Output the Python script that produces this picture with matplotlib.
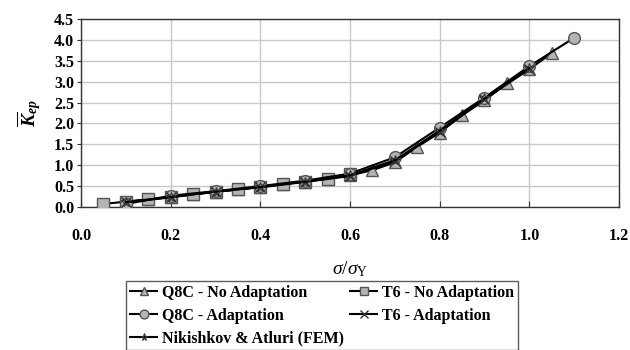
import matplotlib
matplotlib.use("Agg")
import matplotlib.pyplot as plt

plt.rcParams["font.family"] = "Liberation Serif"
plt.rcParams["font.weight"] = "bold"
plt.rcParams["mathtext.fontset"] = "custom"
plt.rcParams["mathtext.rm"] = "Liberation Serif:regular"
plt.rcParams["mathtext.it"] = "Liberation Serif:italic:regular"
plt.rcParams["mathtext.bf"] = "Liberation Serif:italic:bold"

# sigma / sigma_Y  vs  normalised K_ep
q8c_na_x = [0.1, 0.15, 0.2, 0.25, 0.3, 0.35, 0.4, 0.45, 0.5, 0.55, 0.6,
            0.65, 0.7, 0.75, 0.8, 0.85, 0.9, 0.95, 1.0, 1.05]
q8c_na_y = [0.12, 0.18, 0.24, 0.30, 0.36, 0.42, 0.48, 0.55, 0.61, 0.68, 0.76,
            0.88, 1.07, 1.44, 1.78, 2.20, 2.55, 2.96, 3.30, 3.68]

t6_na_x = [0.05, 0.1, 0.15, 0.2, 0.25, 0.3, 0.35, 0.4, 0.45, 0.5, 0.55, 0.6]
t6_na_y = [0.07, 0.13, 0.18, 0.24, 0.31, 0.36, 0.42, 0.48, 0.55, 0.61, 0.68, 0.78]

q8c_a_x = [0.1, 0.2, 0.3, 0.4, 0.5, 0.6, 0.7, 0.8, 0.9, 1.0, 1.1]
q8c_a_y = [0.07, 0.27, 0.38, 0.50, 0.63, 0.80, 1.19, 1.90, 2.62, 3.37, 4.05]

t6_a_x = [0.1, 0.2, 0.3, 0.4, 0.5, 0.6, 0.7, 0.8, 0.9, 1.0]
t6_a_y = [0.11, 0.23, 0.37, 0.47, 0.60, 0.74, 1.10, 1.80, 2.58, 3.30]

nik_x = [0.1, 0.2, 0.3, 0.4, 0.5, 0.6, 0.7, 0.8, 0.9, 1.0]
nik_y = [0.12, 0.24, 0.37, 0.48, 0.61, 0.76, 1.12, 1.83, 2.60, 3.33]

fig = plt.figure(figsize=(6.3, 3.5), dpi=100)
ax = fig.add_axes([0.1286, 0.4086, 0.8539, 0.5371])

mfc = "#b4b4b4"
mec = "#555555"
ax.plot(q8c_na_x, q8c_na_y, color="black", lw=1.5, marker="^", ms=8.5,
        mfc=mfc, mec=mec, label="Q8C - No Adaptation", zorder=3)
ax.plot(t6_na_x, t6_na_y, color="black", lw=1.5, marker="s", ms=8,
        mfc=mfc, mec=mec, label="T6 - No Adaptation", zorder=3)
ax.plot(q8c_a_x, q8c_a_y, color="black", lw=1.5, marker="o", ms=8.5,
        mfc=mfc, mec=mec, label="Q8C - Adaptation", zorder=4)
ax.plot(t6_a_x, t6_a_y, color="black", lw=1.5, marker="x", ms=7,
        mec="#333333", label="T6 - Adaptation", zorder=5)
ax.plot(nik_x, nik_y, color="black", lw=1.5, marker="*", ms=7,
        mfc="none", mec="#333333", mew=0.8, label="Nikishkov & Atluri (FEM)", zorder=5)

ax.set_xlim(0, 1.2)
ax.set_ylim(0, 4.5)
ax.set_xticks([0.0, 0.2, 0.4, 0.6, 0.8, 1.0, 1.2])
ax.set_yticks([0.0, 0.5, 1.0, 1.5, 2.0, 2.5, 3.0, 3.5, 4.0, 4.5])
ax.set_xticklabels([f"{v:.1f}" for v in ax.get_xticks()], fontsize=11.5, fontweight="bold")
ax.set_yticklabels([f"{v:.1f}" for v in ax.get_yticks()], fontsize=11.5, fontweight="bold")
ax.tick_params(axis="x", direction="in", length=4, pad=15, color="#333333")
ax.tick_params(axis="y", direction="out", length=3, pad=2, color="#333333")
ax.grid(True, color="#c8c8c8", lw=1.0, zorder=0)
ax.set_axisbelow(True)
for sp in ax.spines.values():
    sp.set_color("#333333")
    sp.set_linewidth(1.0)

ax.set_xlabel(r"$\sigma/\sigma_{\mathrm{Y}}$", fontsize=14, labelpad=11)
ax.set_ylabel(r"$\overline{\mathbf{K}}_{\mathbf{ep}}$", fontsize=14, labelpad=8)

h, l = ax.get_legend_handles_labels()
order = [0, 2, 4, 1, 3]
leg = fig.legend([h[i] for i in order], [l[i] for i in order],
                 loc="upper left", bbox_to_anchor=(0.200, 0.197), ncol=2,
                 frameon=True, fancybox=False, edgecolor="#333333",
                 handlelength=1.7, handletextpad=0.3, columnspacing=0.4,
                 labelspacing=0.42, borderpad=0.25, borderaxespad=0.0,
                 markerscale=0.75,
                 prop={"family": "Liberation Serif", "weight": "bold", "size": 11.5})
leg.get_frame().set_linewidth(1.0)

fig.savefig("out.png", dpi=100)
